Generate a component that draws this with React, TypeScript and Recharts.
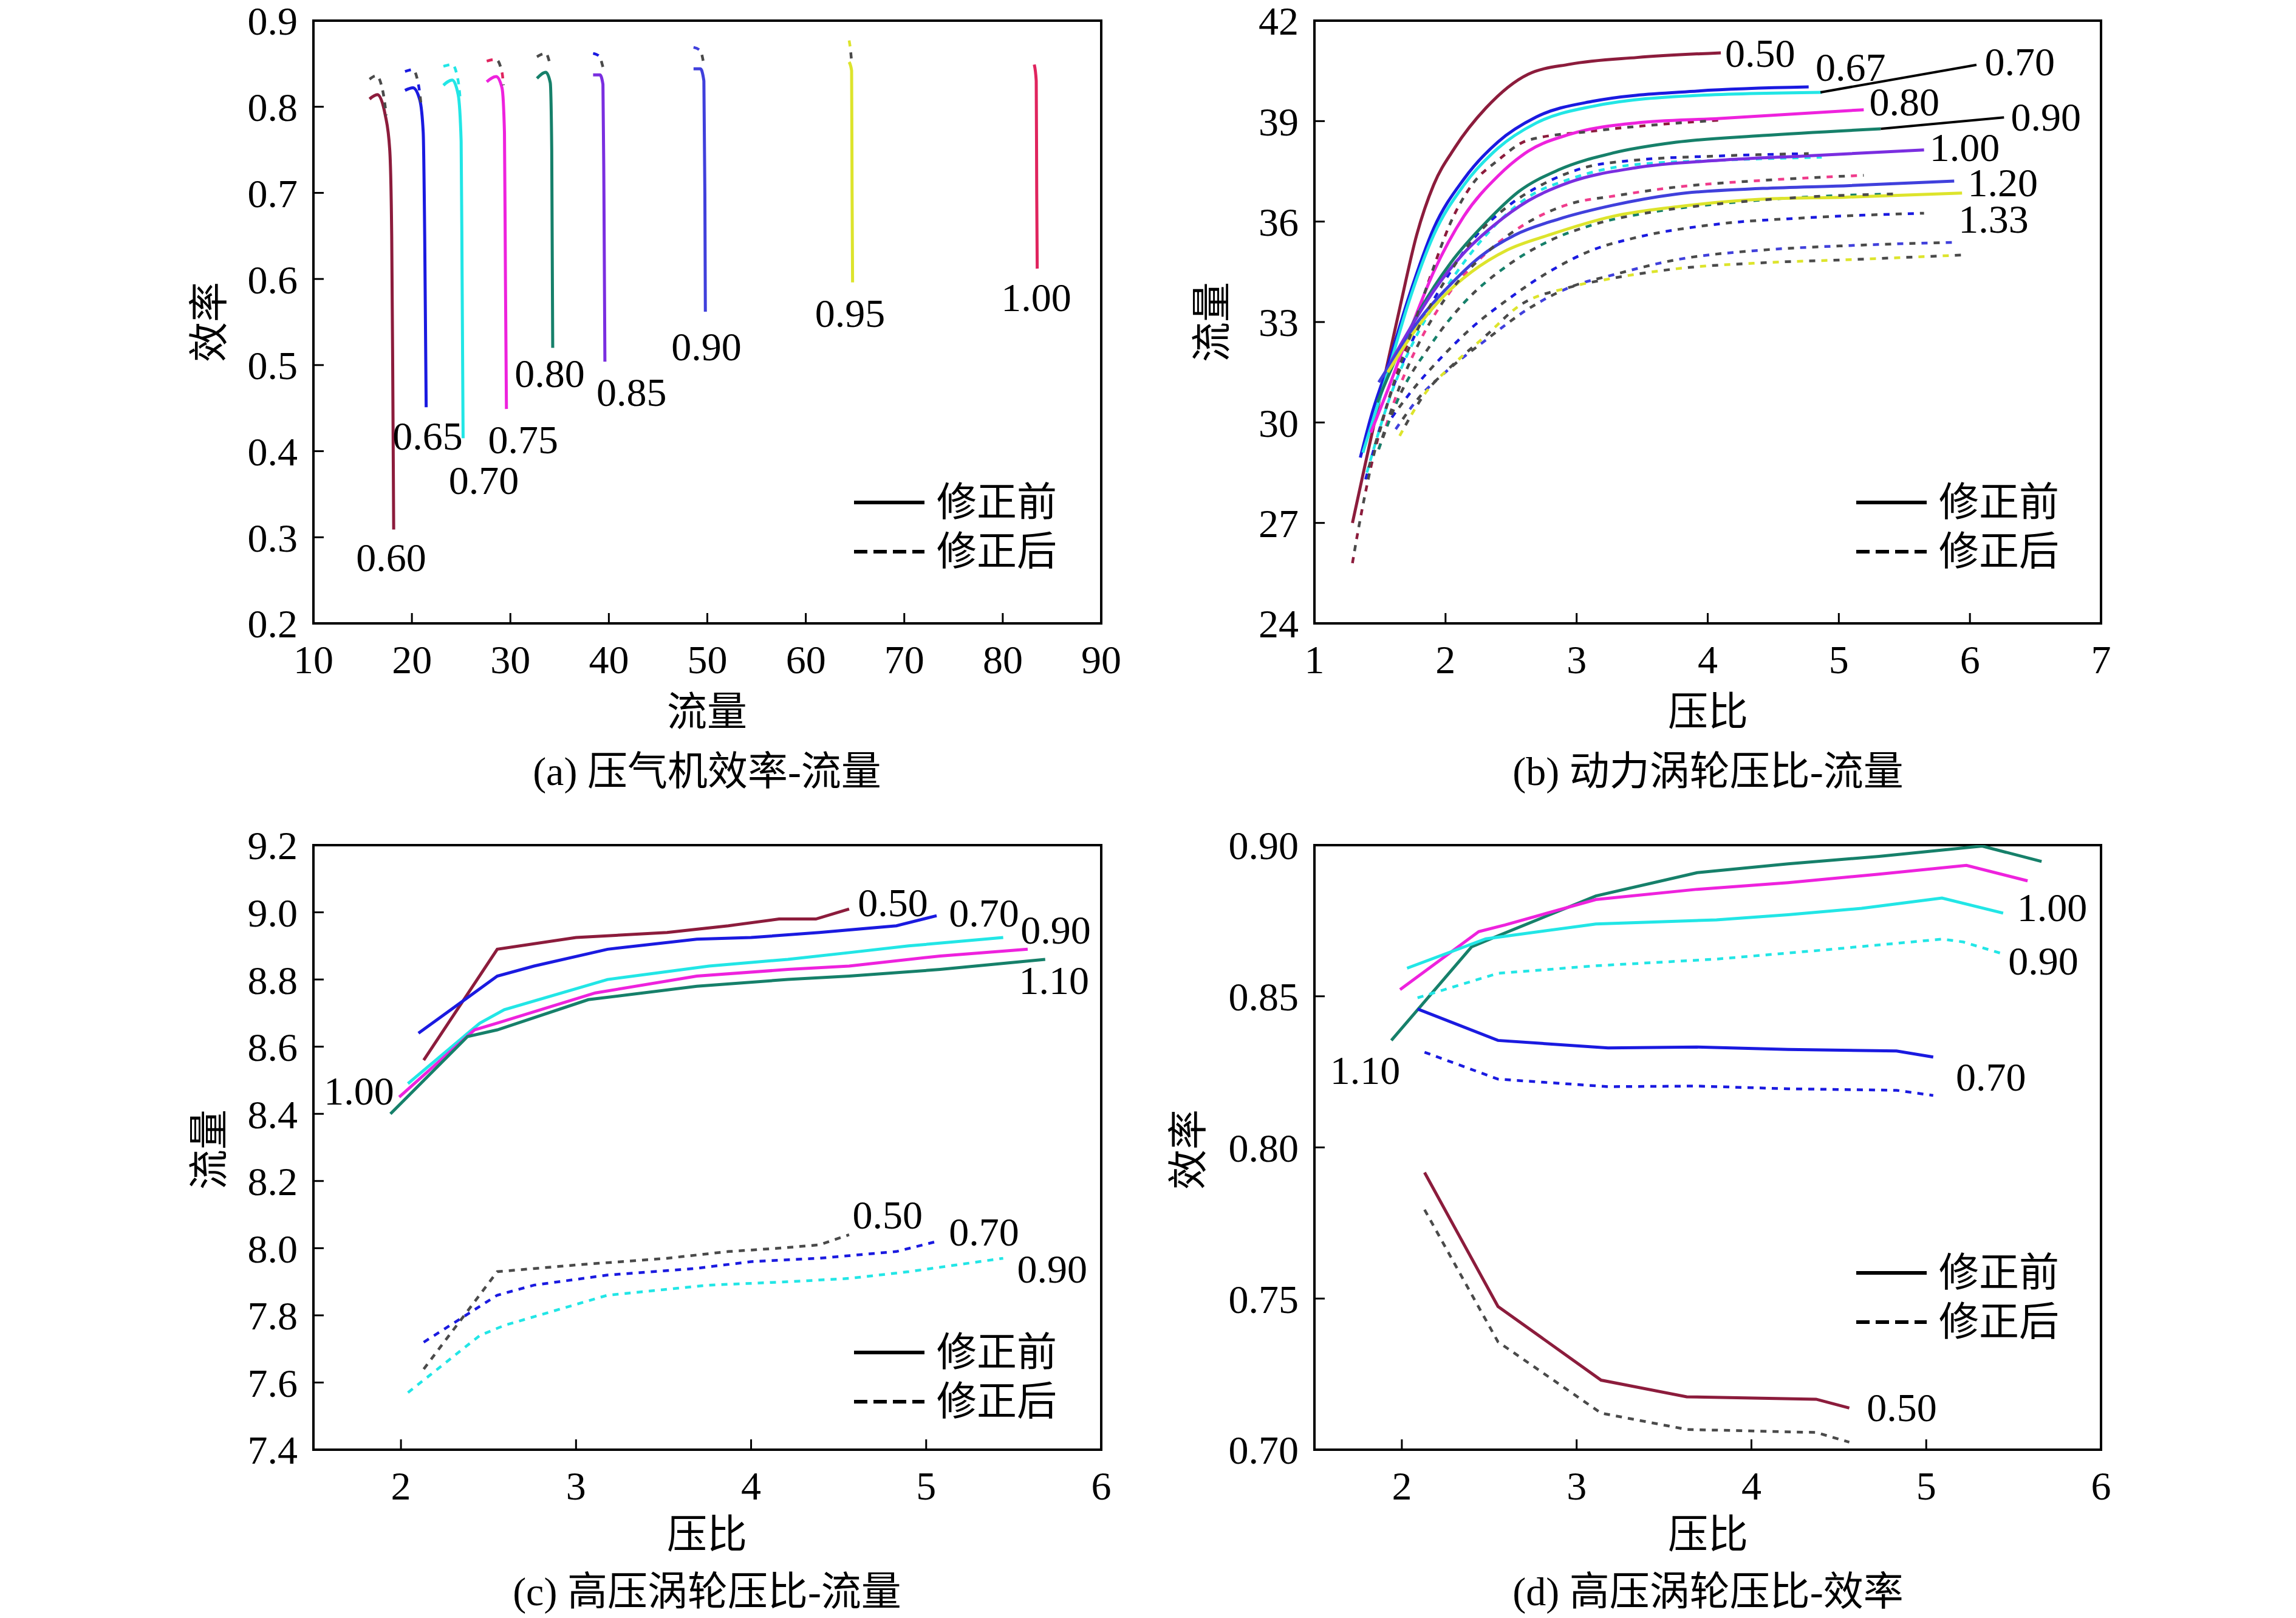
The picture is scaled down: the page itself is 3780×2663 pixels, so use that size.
import React from "react";
import {
  LineChart,
  Line,
  XAxis,
  YAxis,
  ReferenceArea,
  ReferenceDot,
  ReferenceLine,
  Legend,
} from "recharts";

type Pt = [number, number];

// ---- panel (a): compressor efficiency vs flow ----
const A_X_TICKS = [10, 20, 30, 40, 50, 60, 70, 80, 90];
const A_Y_TICKS = [0.2, 0.3, 0.4, 0.5, 0.6, 0.7, 0.8, 0.9];

const A_060: Pt[] = [[15.7, 0.809], [16.5, 0.814], [17.3, 0.79], [17.75, 0.75], [17.95, 0.65], [18.05, 0.5], [18.15, 0.309]];
const A_065: Pt[] = [[19.3, 0.819], [20.1, 0.822], [20.8, 0.808], [21.15, 0.77], [21.3, 0.65], [21.45, 0.451]];
const A_070: Pt[] = [[23.2, 0.825], [24.1, 0.831], [24.7, 0.814], [25.0, 0.76], [25.1, 0.6], [25.2, 0.415]];
const A_075: Pt[] = [[27.6, 0.829], [28.55, 0.835], [29.15, 0.822], [29.4, 0.77], [29.5, 0.6], [29.6, 0.449]];
const A_080: Pt[] = [[32.7, 0.833], [33.6, 0.84], [34.05, 0.828], [34.2, 0.75], [34.3, 0.52]];
const A_085: Pt[] = [[38.4, 0.837], [39.1, 0.837], [39.4, 0.826], [39.5, 0.7], [39.6, 0.504]];
const A_090: Pt[] = [[48.6, 0.844], [49.3, 0.844], [49.65, 0.83], [49.75, 0.7], [49.8, 0.562]];
const A_095: Pt[] = [[64.4, 0.852], [64.65, 0.842], [64.7, 0.7], [64.75, 0.596]];
const A_100: Pt[] = [[83.2, 0.849], [83.4, 0.83], [83.45, 0.7], [83.5, 0.612]];

const A_060_FIX: Pt[] = [[15.7, 0.832], [16.4, 0.836], [17.1, 0.815], [17.4, 0.79]];
const A_065_FIX: Pt[] = [[19.3, 0.841], [20.1, 0.843], [20.75, 0.82], [20.95, 0.8]];
const A_070_FIX: Pt[] = [[23.2, 0.847], [24.1, 0.849], [24.7, 0.83], [24.9, 0.81]];
const A_075_FIX: Pt[] = [[27.6, 0.853], [28.55, 0.855], [29.15, 0.84], [29.3, 0.825]];
const A_080_FIX: Pt[] = [[32.7, 0.858], [33.6, 0.862], [34.05, 0.848]];
const A_085_FIX: Pt[] = [[38.4, 0.862], [39.0, 0.859], [39.4, 0.846]];
const A_090_FIX: Pt[] = [[48.6, 0.869], [49.3, 0.865], [49.6, 0.852]];
const A_095_FIX: Pt[] = [[64.4, 0.877], [64.55, 0.865], [64.65, 0.852]];

const A_LABELS = [
  { text: "0.60", x: 17.9, y: 0.277 },
  { text: "0.65", x: 21.6, y: 0.418 },
  { text: "0.70", x: 27.3, y: 0.367 },
  { text: "0.75", x: 31.3, y: 0.414 },
  { text: "0.80", x: 34.0, y: 0.491 },
  { text: "0.85", x: 42.3, y: 0.469 },
  { text: "0.90", x: 49.9, y: 0.522 },
  { text: "0.95", x: 64.5, y: 0.561 },
  { text: "1.00", x: 83.4, y: 0.579 },
];

// ---- panel (b): power turbine pressure ratio vs flow ----
const B_X_TICKS = [1, 2, 3, 4, 5, 6, 7];
const B_Y_TICKS = [24, 27, 30, 33, 36, 39, 42];

const B_050: Pt[] = [[1.29, 27.0], [1.39, 28.8], [1.52, 31.1], [1.65, 33.4], [1.78, 35.6], [1.91, 37.1], [2.07, 38.2], [2.31, 39.4], [2.63, 40.4], [2.95, 40.7], [3.46, 40.9], [4.1, 41.04]];
const B_067: Pt[] = [[1.35, 28.95], [1.43, 30.15], [1.56, 31.7], [1.72, 33.75], [1.91, 35.8], [2.14, 37.27], [2.4, 38.38], [2.69, 39.12], [3.12, 39.59], [3.93, 39.9], [4.77, 40.02]];
const B_070: Pt[] = [[1.37, 29.1], [1.56, 31.5], [1.72, 33.6], [1.91, 35.6], [2.14, 37.09], [2.4, 38.19], [2.69, 38.94], [3.12, 39.44], [3.93, 39.77], [4.87, 39.86]];
const B_080: Pt[] = [[1.43, 29.7], [1.56, 30.98], [1.72, 32.65], [1.91, 34.5], [2.14, 36.16], [2.4, 37.36], [2.63, 38.1], [2.95, 38.61], [3.44, 38.94], [4.09, 39.08], [5.19, 39.34]];
const B_090: Pt[] = [[1.48, 30.6], [1.62, 31.9], [1.81, 33.39], [2.04, 34.77], [2.31, 35.98], [2.56, 36.9], [2.86, 37.54], [3.28, 38.05], [3.76, 38.37], [4.42, 38.57], [5.32, 38.77]];
const B_100: Pt[] = [[1.52, 31.36], [1.72, 32.74], [1.91, 33.93], [2.14, 35.06], [2.37, 35.89], [2.63, 36.62], [2.95, 37.18], [3.44, 37.6], [4.09, 37.83], [4.74, 37.96], [5.65, 38.14]];
const B_120: Pt[] = [[1.49, 31.2], [1.62, 31.99], [1.81, 33.12], [2.04, 34.13], [2.27, 34.97], [2.53, 35.6], [2.86, 36.07], [3.28, 36.49], [3.76, 36.82], [4.42, 36.99], [5.06, 37.07], [5.88, 37.21]];
const B_133: Pt[] = [[1.56, 31.5], [1.75, 32.65], [1.98, 33.75], [2.2, 34.5], [2.47, 35.15], [2.79, 35.6], [3.28, 36.16], [3.76, 36.44], [4.42, 36.67], [5.06, 36.73], [5.94, 36.85]];

const B_050_FIX: Pt[] = [[1.29, 25.8], [1.33, 26.7], [1.41, 28.3], [1.56, 30.6], [1.72, 32.47], [1.88, 34.31], [2.04, 35.98], [2.2, 37.09], [2.4, 37.83], [2.63, 38.43], [3.12, 38.7], [4.09, 39.03]];
const B_067_FIX: Pt[] = [[1.39, 28.3], [1.56, 30.6], [1.75, 32.47], [1.98, 34.13], [2.2, 35.42], [2.47, 36.44], [2.73, 37.09], [3.05, 37.6], [3.44, 37.83], [4.09, 37.96], [4.77, 38.03]];
const B_070_FIX: Pt[] = [[1.4, 28.5], [1.58, 30.8], [1.78, 32.6], [2.0, 34.0], [2.31, 35.6], [2.63, 36.73], [2.95, 37.27], [3.44, 37.7], [4.09, 37.83], [4.87, 37.92]];
const B_080_FIX: Pt[] = [[1.49, 29.2], [1.65, 31.07], [1.81, 32.47], [2.04, 33.93], [2.31, 35.06], [2.63, 35.98], [2.95, 36.53], [3.28, 36.76], [3.76, 37.03], [4.42, 37.23], [5.19, 37.38]];
const B_090_FIX: Pt[] = [[1.49, 29.2], [1.65, 30.8], [1.88, 32.28], [2.14, 33.57], [2.47, 34.68], [2.79, 35.42], [3.12, 35.9], [3.6, 36.3], [4.09, 36.53], [4.74, 36.73], [5.45, 36.83]];
const B_100_FIX: Pt[] = [[1.59, 30.15], [1.75, 30.98], [1.98, 31.99], [2.2, 32.83], [2.47, 33.66], [2.79, 34.5], [3.12, 35.15], [3.44, 35.51], [4.09, 35.93], [4.74, 36.11], [5.65, 36.25]];
const B_120_FIX: Pt[] = [[1.62, 29.8], [1.81, 30.8], [2.01, 31.54], [2.31, 32.47], [2.63, 33.39], [2.95, 34.04], [3.28, 34.41], [3.76, 34.86], [4.42, 35.15], [5.06, 35.28], [5.88, 35.38]];
const B_133_FIX: Pt[] = [[1.65, 29.6], [1.85, 30.9], [2.05, 31.7], [2.31, 32.6], [2.56, 33.48], [2.95, 34.04], [3.28, 34.31], [3.76, 34.59], [4.42, 34.77], [5.06, 34.86], [5.94, 35.0]];

const B_LABELS = [
  { text: "0.50", x: 4.4, y: 41.05 },
  { text: "0.67", x: 5.09, y: 40.62 },
  { text: "0.70", x: 6.38, y: 40.8 },
  { text: "0.80", x: 5.5, y: 39.6 },
  { text: "0.90", x: 6.58, y: 39.14 },
  { text: "1.00", x: 5.96, y: 38.24 },
  { text: "1.20", x: 6.25, y: 37.19 },
  { text: "1.33", x: 6.18, y: 36.09 },
];
const B_LEADERS: [Pt, Pt][] = [
  [[4.86, 39.86], [6.05, 40.68]],
  [[5.32, 38.77], [6.26, 39.11]],
];

// ---- panel (c): HP turbine pressure ratio vs flow ----
const C_X_TICKS = [2, 3, 4, 5, 6];
const C_Y_TICKS = [7.4, 7.6, 7.8, 8.0, 8.2, 8.4, 8.6, 8.8, 9.0, 9.2];

const C_050: Pt[] = [[2.13, 8.56], [2.55, 8.89], [3.0, 8.925], [3.52, 8.94], [3.87, 8.96], [4.16, 8.98], [4.37, 8.98], [4.56, 9.01]];
const C_070: Pt[] = [[2.1, 8.64], [2.55, 8.81], [2.76, 8.84], [3.18, 8.89], [3.69, 8.92], [4.0, 8.925], [4.39, 8.94], [4.83, 8.96], [5.06, 8.99]];
const C_090: Pt[] = [[2.04, 8.49], [2.45, 8.67], [2.59, 8.71], [3.18, 8.8], [3.76, 8.84], [4.21, 8.86], [4.56, 8.88], [4.9, 8.9], [5.44, 8.925]];
const C_100: Pt[] = [[1.99, 8.45], [2.42, 8.65], [2.55, 8.67], [3.11, 8.76], [3.69, 8.81], [4.21, 8.83], [4.56, 8.84], [5.08, 8.87], [5.58, 8.89]];
const C_110: Pt[] = [[1.94, 8.4], [2.38, 8.63], [2.55, 8.65], [3.07, 8.74], [3.69, 8.78], [4.21, 8.8], [4.56, 8.81], [5.08, 8.83], [5.68, 8.86]];
const C_050_FIX: Pt[] = [[2.13, 7.64], [2.55, 7.93], [3.0, 7.95], [3.52, 7.97], [3.87, 7.99], [4.16, 8.0], [4.39, 8.01], [4.56, 8.04]];
const C_070_FIX: Pt[] = [[2.13, 7.72], [2.55, 7.86], [2.76, 7.89], [3.18, 7.92], [3.69, 7.94], [4.0, 7.96], [4.39, 7.97], [4.83, 7.99], [5.06, 8.02]];
const C_090_FIX: Pt[] = [[2.04, 7.57], [2.45, 7.74], [2.59, 7.77], [3.18, 7.86], [3.76, 7.89], [4.21, 7.9], [4.56, 7.91], [4.9, 7.93], [5.44, 7.97]];

const C_LABELS = [
  { text: "0.50", x: 4.81, y: 9.03 },
  { text: "0.70", x: 5.33, y: 9.0 },
  { text: "0.90", x: 5.74, y: 8.95 },
  { text: "1.10", x: 5.73, y: 8.8 },
  { text: "1.00", x: 1.76, y: 8.47 },
  { text: "0.50", x: 4.78, y: 8.1 },
  { text: "0.70", x: 5.33, y: 8.05 },
  { text: "0.90", x: 5.72, y: 7.94 },
];

// ---- panel (d): HP turbine pressure ratio vs efficiency ----
const D_X_TICKS = [2, 3, 4, 5, 6];
const D_Y_TICKS = [0.7, 0.75, 0.8, 0.85, 0.9];

const D_110: Pt[] = [[1.94, 0.8354], [2.4, 0.8664], [2.55, 0.87], [3.11, 0.8832], [3.69, 0.8909], [4.21, 0.8938], [4.73, 0.8963], [5.25, 0.8993], [5.32, 0.8997], [5.66, 0.8946]];
const D_100: Pt[] = [[1.99, 0.8522], [2.44, 0.8714], [2.59, 0.8736], [3.11, 0.882], [3.69, 0.8854], [4.21, 0.8876], [4.73, 0.8904], [5.23, 0.8933], [5.58, 0.8882]];
const D_090: Pt[] = [[2.03, 0.8593], [2.48, 0.869], [3.11, 0.8739], [3.8, 0.8753], [4.21, 0.877], [4.63, 0.8791], [5.09, 0.8825], [5.44, 0.8775]];
const D_070: Pt[] = [[2.09, 0.8458], [2.55, 0.8354], [3.18, 0.8329], [3.69, 0.8332], [4.21, 0.8324], [4.83, 0.8319], [5.04, 0.8299]];
const D_050: Pt[] = [[2.13, 0.7917], [2.55, 0.7474], [3.14, 0.723], [3.63, 0.7175], [4.37, 0.7167], [4.56, 0.7138]];
const D_090_FIX: Pt[] = [[2.09, 0.8495], [2.55, 0.8576], [3.11, 0.8601], [3.8, 0.8623], [4.39, 0.8652], [5.09, 0.8689], [5.21, 0.868], [5.44, 0.864]];
const D_070_FIX: Pt[] = [[2.13, 0.8315], [2.55, 0.8226], [3.18, 0.8201], [3.69, 0.8203], [4.21, 0.8194], [4.83, 0.8189], [5.04, 0.8172]];
const D_050_FIX: Pt[] = [[2.13, 0.7794], [2.55, 0.7357], [3.14, 0.7121], [3.63, 0.7067], [4.37, 0.7057], [4.56, 0.7025]];

const D_LABELS = [
  { text: "1.00", x: 5.72, y: 0.8795 },
  { text: "0.90", x: 5.67, y: 0.8618 },
  { text: "1.10", x: 1.79, y: 0.8257 },
  { text: "0.70", x: 5.37, y: 0.8235 },
  { text: "0.50", x: 4.86, y: 0.7141 },
];

const LEGEND_ITEMS = [
  { label: "修正前", dashed: false },
  { label: "修正后", dashed: true },
];

// ---- styling ----
const FONT = "'Liberation Serif', 'Times New Roman', 'DejaVu Serif', 'Noto Sans CJK SC', serif";
const FS = 66;
const RED_DARK = "#8c1c3c";
const BLUE = "#1a1ae0";
const CYAN = "#22e6e6";
const MAGENTA = "#ee22dd";
const TEAL = "#16806a";
const PURPLE = "#7a2ee0";
const BLUE2 = "#4040dc";
const YELLOW = "#dde42c";
const CRIMSON = "#e0245e";
const GRAY = "#4a4a4a";

interface Series {
  data: Pt[];
  color: string;
  dashed?: boolean;
  mix?: boolean;
}

const A_SERIES: Series[] = [
  { data: A_060, color: RED_DARK },
  { data: A_065, color: BLUE },
  { data: A_070, color: CYAN },
  { data: A_075, color: MAGENTA },
  { data: A_080, color: TEAL },
  { data: A_085, color: PURPLE },
  { data: A_090, color: BLUE2 },
  { data: A_095, color: YELLOW },
  { data: A_100, color: CRIMSON },
  { data: A_060_FIX, color: GRAY, dashed: true },
  { data: A_065_FIX, color: BLUE, dashed: true, mix: true },
  { data: A_070_FIX, color: CYAN, dashed: true },
  { data: A_075_FIX, color: CRIMSON, dashed: true, mix: true },
  { data: A_080_FIX, color: GRAY, dashed: true },
  { data: A_085_FIX, color: BLUE, dashed: true, mix: true },
  { data: A_090_FIX, color: BLUE2, dashed: true, mix: true },
  { data: A_095_FIX, color: YELLOW, dashed: true, mix: true },
];

const B_SERIES: Series[] = [
  { data: B_050_FIX, color: RED_DARK, dashed: true, mix: true },
  { data: B_067_FIX, color: BLUE, dashed: true, mix: true },
  { data: B_070_FIX, color: CYAN, dashed: true },
  { data: B_080_FIX, color: "#f03c8c", dashed: true, mix: true },
  { data: B_090_FIX, color: TEAL, dashed: true, mix: true },
  { data: B_100_FIX, color: BLUE, dashed: true, mix: true },
  { data: B_120_FIX, color: BLUE2, dashed: true, mix: true },
  { data: B_133_FIX, color: YELLOW, dashed: true, mix: true },
  { data: B_050, color: RED_DARK },
  { data: B_067, color: BLUE },
  { data: B_070, color: CYAN },
  { data: B_080, color: MAGENTA },
  { data: B_090, color: TEAL },
  { data: B_100, color: PURPLE },
  { data: B_120, color: BLUE2 },
  { data: B_133, color: YELLOW },
];

const C_SERIES: Series[] = [
  { data: C_050, color: RED_DARK },
  { data: C_070, color: BLUE },
  { data: C_090, color: CYAN },
  { data: C_100, color: MAGENTA },
  { data: C_110, color: TEAL },
  { data: C_050_FIX, color: GRAY, dashed: true },
  { data: C_070_FIX, color: BLUE, dashed: true },
  { data: C_090_FIX, color: CYAN, dashed: true },
];

const D_SERIES: Series[] = [
  { data: D_110, color: TEAL },
  { data: D_100, color: MAGENTA },
  { data: D_090, color: CYAN },
  { data: D_070, color: BLUE },
  { data: D_050, color: RED_DARK },
  { data: D_090_FIX, color: CYAN, dashed: true },
  { data: D_070_FIX, color: BLUE, dashed: true },
  { data: D_050_FIX, color: GRAY, dashed: true },
];

const toRows = (pts: Pt[]) => pts.map(([x, y]) => ({ x, y }));

function KeyLegend() {
  return (
    <div style={{ fontFamily: FONT, fontSize: FS, color: "#000" }}>
      {LEGEND_ITEMS.map((item) => (
        <div key={item.label} style={{ display: "flex", alignItems: "center", height: 81 }}>
          <svg width={116} height={12}>
            <line
              x1={0}
              y1={6}
              x2={116}
              y2={6}
              stroke="#000"
              strokeWidth={6}
              strokeDasharray={item.dashed ? "22 10" : undefined}
            />
          </svg>
          <span style={{ marginLeft: 20, lineHeight: "81px", whiteSpace: "nowrap" }}>{item.label}</span>
        </div>
      ))}
    </div>
  );
}

interface PanelProps {
  left: number;
  top: number;
  height: number;
  margin: { top: number; right: number; bottom: number; left: number };
  xDomain: [number, number];
  yDomain: [number, number];
  xTicks: number[];
  yTicks: number[];
  yDigits: number;
  series: Series[];
  labels: { text: string; x: number; y: number }[];
  leaders?: [Pt, Pt][];
  curve: "monotone" | "linear";
  legendTop: number;
}

const tickStyle = { fontSize: FS, fill: "#000", fontFamily: FONT };

function Panel(p: PanelProps) {
  return (
    <div style={{ position: "absolute", left: p.left, top: p.top }}>
      <LineChart width={1900} height={p.height} margin={p.margin}>
        <XAxis
          type="number"
          dataKey="x"
          domain={p.xDomain}
          ticks={p.xTicks}
          allowDataOverflow
          interval={0}
          tickFormatter={(v: number) => String(v)}
          tick={tickStyle}
          tickSize={-17}
          tickMargin={52}
          tickLine={{ stroke: "#000", strokeWidth: 3 }}
          axisLine={{ stroke: "#000", strokeWidth: 4 }}
          height={100}
        />
        <YAxis
          type="number"
          dataKey="y"
          domain={p.yDomain}
          ticks={p.yTicks}
          allowDataOverflow
          interval={0}
          tickFormatter={(v: number) => v.toFixed(p.yDigits)}
          tick={tickStyle}
          tickSize={-17}
          tickMargin={43}
          tickLine={{ stroke: "#000", strokeWidth: 3 }}
          axisLine={{ stroke: "#000", strokeWidth: 4 }}
          width={200}
        />
        <ReferenceArea
          x1={p.xDomain[0]}
          x2={p.xDomain[1]}
          y1={p.yDomain[0]}
          y2={p.yDomain[1]}
          fill="none"
          stroke="#000"
          strokeWidth={4}
        />
        {p.series.map((s, i) => (
          <Line
            key={`s${i}`}
            data={toRows(s.data)}
            dataKey="y"
            type={p.curve}
            stroke={s.color}
            strokeWidth={s.dashed ? 4.5 : 5}
            strokeDasharray={s.dashed ? (s.mix ? "10 30" : "10 10") : undefined}
            dot={false}
            activeDot={false}
            legendType="none"
            isAnimationActive={false}
          />
        ))}
        {p.series
          .filter((s) => s.mix)
          .map((s, i) => (
            <Line
              key={`m${i}`}
              data={toRows(s.data)}
              dataKey="y"
              type={p.curve}
              stroke={GRAY}
              strokeWidth={4.5}
              strokeDasharray="10 30"
              strokeDashoffset={-20}
              dot={false}
              activeDot={false}
              legendType="none"
              isAnimationActive={false}
            />
          ))}
        {(p.leaders ?? []).map((seg, i) => (
          <ReferenceLine
            key={`l${i}`}
            segment={[
              { x: seg[0][0], y: seg[0][1] },
              { x: seg[1][0], y: seg[1][1] },
            ]}
            stroke="#000"
            strokeWidth={4}
          />
        ))}
        {p.labels.map((l, i) => (
          <ReferenceDot
            key={`t${i}`}
            x={l.x}
            y={l.y}
            r={0}
            fill="none"
            stroke="none"
            label={{ value: l.text, position: "center", fontSize: FS, fill: "#000", fontFamily: FONT }}
          />
        ))}
        <Legend
          layout="horizontal"
          align="center"
          verticalAlign="middle"
          content={() => <KeyLegend />}
          wrapperStyle={{ left: 1406, top: p.legendTop, width: "auto" }}
        />
      </LineChart>
    </div>
  );
}

const TEXTS = [
  { text: "(a) 压气机效率-流量", x: 1164, y: 1270, rotate: false },
  { text: "(b) 动力涡轮压比-流量", x: 2812, y: 1270, rotate: false },
  { text: "(c) 高压涡轮压比-流量", x: 1164, y: 2620, rotate: false },
  { text: "(d) 高压涡轮压比-效率", x: 2812, y: 2620, rotate: false },
  { text: "流量", x: 1164, y: 1172, rotate: false },
  { text: "压比", x: 2812, y: 1172, rotate: false },
  { text: "压比", x: 1164, y: 2526, rotate: false },
  { text: "压比", x: 2812, y: 2526, rotate: false },
  { text: "效率", x: 345, y: 530, rotate: true },
  { text: "流量", x: 1996, y: 530, rotate: true },
  { text: "流量", x: 345, y: 1892, rotate: true },
  { text: "效率", x: 1957, y: 1892, rotate: true },
];

export default function App() {
  const mL = { top: 74, right: 87, bottom: 24, left: 316 };
  const mR = { top: 74, right: 91, bottom: 24, left: 314 };
  return (
    <div
      style={{
        position: "absolute",
        left: 0,
        top: 0,
        width: 3780,
        height: 2663,
        background: "#fff",
        overflow: "hidden",
      }}
    >
      <Panel
        left={0}
        top={-40}
        height={1190}
        margin={mL}
        xDomain={[10, 90]}
        yDomain={[0.2, 0.9]}
        xTicks={A_X_TICKS}
        yTicks={A_Y_TICKS}
        yDigits={1}
        series={A_SERIES}
        labels={A_LABELS}
        curve="monotone"
        legendTop={826}
      />
      <Panel
        left={1650}
        top={-40}
        height={1190}
        margin={mR}
        xDomain={[1, 7]}
        yDomain={[24, 42]}
        xTicks={B_X_TICKS}
        yTicks={B_Y_TICKS}
        yDigits={0}
        series={B_SERIES}
        labels={B_LABELS}
        leaders={B_LEADERS}
        curve="monotone"
        legendTop={826}
      />
      <Panel
        left={0}
        top={1317}
        height={1193}
        margin={mL}
        xDomain={[1.5, 6]}
        yDomain={[7.4, 9.2]}
        xTicks={C_X_TICKS}
        yTicks={C_Y_TICKS}
        yDigits={1}
        series={C_SERIES}
        labels={C_LABELS}
        curve="linear"
        legendTop={868}
      />
      <Panel
        left={1650}
        top={1317}
        height={1193}
        margin={mR}
        xDomain={[1.5, 6]}
        yDomain={[0.7, 0.9]}
        xTicks={D_X_TICKS}
        yTicks={D_Y_TICKS}
        yDigits={2}
        series={D_SERIES}
        labels={D_LABELS}
        curve="linear"
        legendTop={737}
      />
      {TEXTS.map((t, i) => (
        <div
          key={i}
          style={{
            position: "absolute",
            left: t.x,
            top: t.y,
            transform: `translate(-50%, -50%)${t.rotate ? " rotate(-90deg)" : ""}`,
            fontFamily: FONT,
            fontSize: FS,
            color: "#000",
            whiteSpace: "nowrap",
            lineHeight: 1,
          }}
        >
          {t.text}
        </div>
      ))}
    </div>
  );
}
